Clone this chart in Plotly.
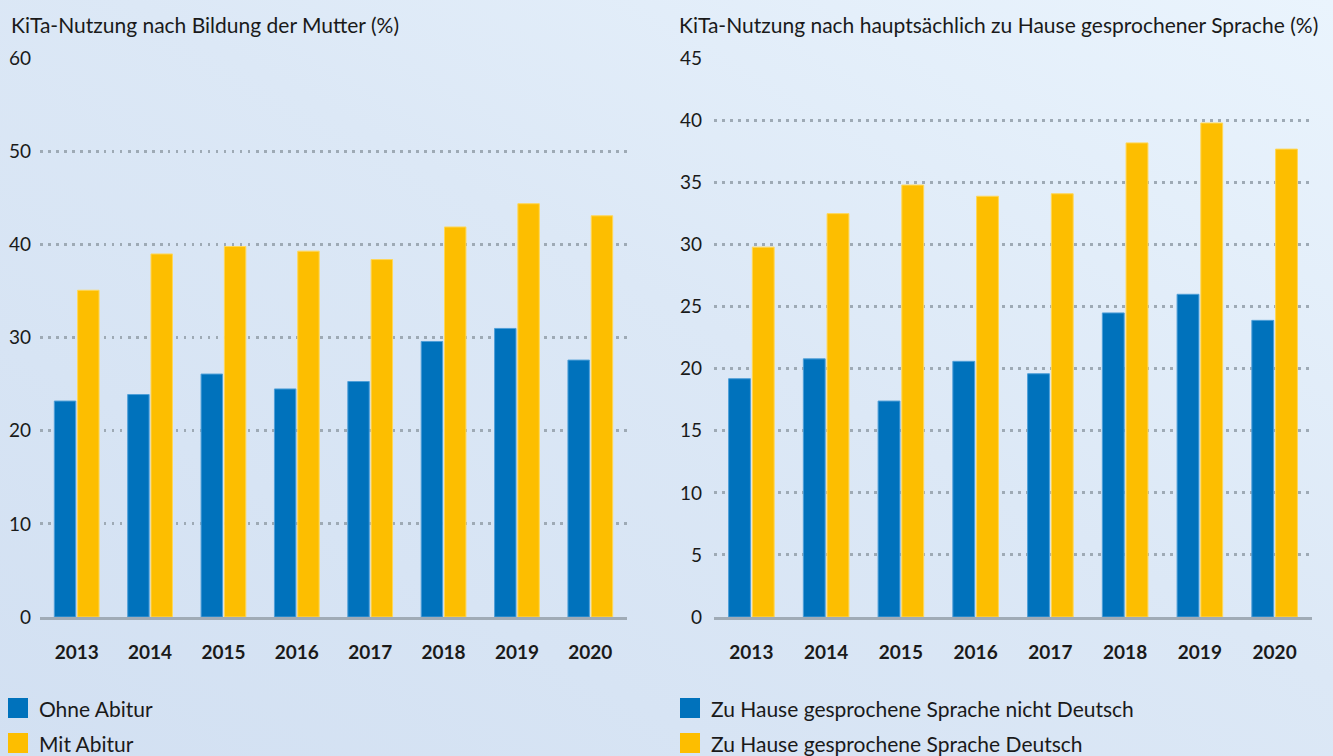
import base64
import plotly.graph_objects as go

years = ["2013", "2014", "2015", "2016", "2017", "2018", "2019", "2020"]

ohne_abitur = [23.2, 23.9, 26.1, 24.5, 25.3, 29.6, 31.0, 27.6]
mit_abitur = [35.1, 39.0, 39.8, 39.3, 38.4, 41.9, 44.4, 43.1]

sprache_nicht_deutsch = [19.2, 20.8, 17.4, 20.6, 19.6, 24.5, 26.0, 23.9]
sprache_deutsch = [29.8, 32.5, 34.8, 33.9, 34.1, 38.2, 39.8, 37.7]

left_title = "KiTa-Nutzung nach Bildung der Mutter (%)"
right_title = "KiTa-Nutzung nach hauptsächlich zu Hause gesprochener Sprache (%)"
left_ticks = [0, 10, 20, 30, 40, 50, 60]
right_ticks = [0, 5, 10, 15, 20, 25, 30, 35, 40, 45]
left_legend = ["Ohne Abitur", "Mit Abitur"]
right_legend = ["Zu Hause gesprochene Sprache nicht Deutsch", "Zu Hause gesprochene Sprache Deutsch"]

BLUE = "#0072bc"
BLUE_EDGE = "#4f9fd8"
YELLOW = "#fdbe00"
YELLOW_EDGE = "#ffd757"
FONT = "Lato"
TXT = "#1a1a1a"

W, H = 1333, 756

fig = go.Figure()

def bar(x, y, name, color, edge, xa, ya):
    return go.Bar(
        x=x, y=y, name=name, xaxis=xa, yaxis=ya,
        marker=dict(color=color, line=dict(color=edge, width=1)),
        showlegend=False, hoverinfo="x+y",
    )

fig.add_trace(bar(years, ohne_abitur, left_legend[0], BLUE, BLUE_EDGE, "x", "y"))
fig.add_trace(bar(years, mit_abitur, left_legend[1], YELLOW, YELLOW_EDGE, "x", "y"))
fig.add_trace(bar(years, sprache_nicht_deutsch, right_legend[0], BLUE, BLUE_EDGE, "x2", "y2"))
fig.add_trace(bar(years, sprache_deutsch, right_legend[1], YELLOW, YELLOW_EDGE, "x2", "y2"))

# background gradient
svg = f'''<svg xmlns="http://www.w3.org/2000/svg" width="{W}" height="{H}" preserveAspectRatio="none">
<defs><linearGradient id="g" x1="0" y1="1" x2="1" y2="0">
<stop offset="0" stop-color="#d2e0f2"/>
<stop offset="0.55" stop-color="#dce8f6"/>
<stop offset="1" stop-color="#eaf4fd"/>
</linearGradient></defs>
<rect width="{W}" height="{H}" fill="url(#g)"/></svg>'''
src = "data:image/svg+xml;base64," + base64.b64encode(svg.encode()).decode()

ydom = [1 - 617 / H, 1 - 58.5 / H]

xcommon = dict(
    showgrid=False, zeroline=False, showline=True, linecolor="#a0abb6", linewidth=3,
    ticks="", tickfont=dict(family=FONT, size=19, color=TXT, weight="bold"),
    ticklabelstandoff=16, fixedrange=True, automargin=False,
)
ycommon = dict(
    showgrid=True, gridcolor="#9eaab5", gridwidth=2.5, griddash="2.5px,5.5px",
    zeroline=False, showline=False, ticks="",
    tickfont=dict(family=FONT, size=19, color=TXT),
    fixedrange=True, automargin=False,
)

# hand-drawn legends (larger swatches than plotly's built-in legend)
shapes, annotations = [], []
legend_rows = [698, 733]
for x0, labels in ((8, left_legend), (680, right_legend)):
    for row, label, color in zip(legend_rows, labels, (BLUE, YELLOW)):
        shapes.append(dict(type="rect", xref="paper", yref="paper",
                           x0=x0 / W, x1=(x0 + 20) / W, y0=1 - (row + 20) / H, y1=1 - row / H,
                           fillcolor=color, line=dict(width=0), layer="above"))
        annotations.append(dict(text=label, xref="paper", yref="paper",
                                x=(x0 + 29) / W, y=1 - (row + 10) / H,
                                xanchor="left", yanchor="middle", showarrow=False,
                                font=dict(family=FONT, size=21, color=TXT)))

for x0, title in ((9, left_title), (677, right_title)):
    annotations.append(dict(text=title, xref="paper", yref="paper", x=x0 / W, y=1 - 24 / H,
                            xanchor="left", yanchor="middle", showarrow=False,
                            font=dict(family=FONT, size=21, color=TXT)))

fig.update_layout(
    width=W, height=H,
    margin=dict(l=0, r=0, t=0, b=0, pad=0, autoexpand=False),
    paper_bgcolor="#dae7f6",
    plot_bgcolor="rgba(0,0,0,0)",
    font=dict(family=FONT, size=19, color=TXT),
    barmode="group", bargap=0.365, bargroupgap=0.08,
    showlegend=False,
    images=[dict(source=src, xref="paper", yref="paper", x=0, y=1, sizex=1, sizey=1,
                 xanchor="left", yanchor="top", sizing="stretch", layer="below")],
    xaxis=dict(domain=[40 / W, 627 / W], anchor="y", **xcommon),
    yaxis=dict(domain=ydom, range=[0, 60], tickvals=left_ticks, anchor="x",
               ticklabelstandoff=8, **ycommon),
    xaxis2=dict(domain=[714 / W, 1312 / W], anchor="y2", **xcommon),
    yaxis2=dict(domain=ydom, range=[0, 45], tickvals=right_ticks, anchor="x2",
                ticklabelstandoff=11, **ycommon),
    shapes=shapes,
    annotations=annotations,
)

fig.write_html("out.html", config={"displayModeBar": False},
               post_script="document.body.style.margin='0';")
